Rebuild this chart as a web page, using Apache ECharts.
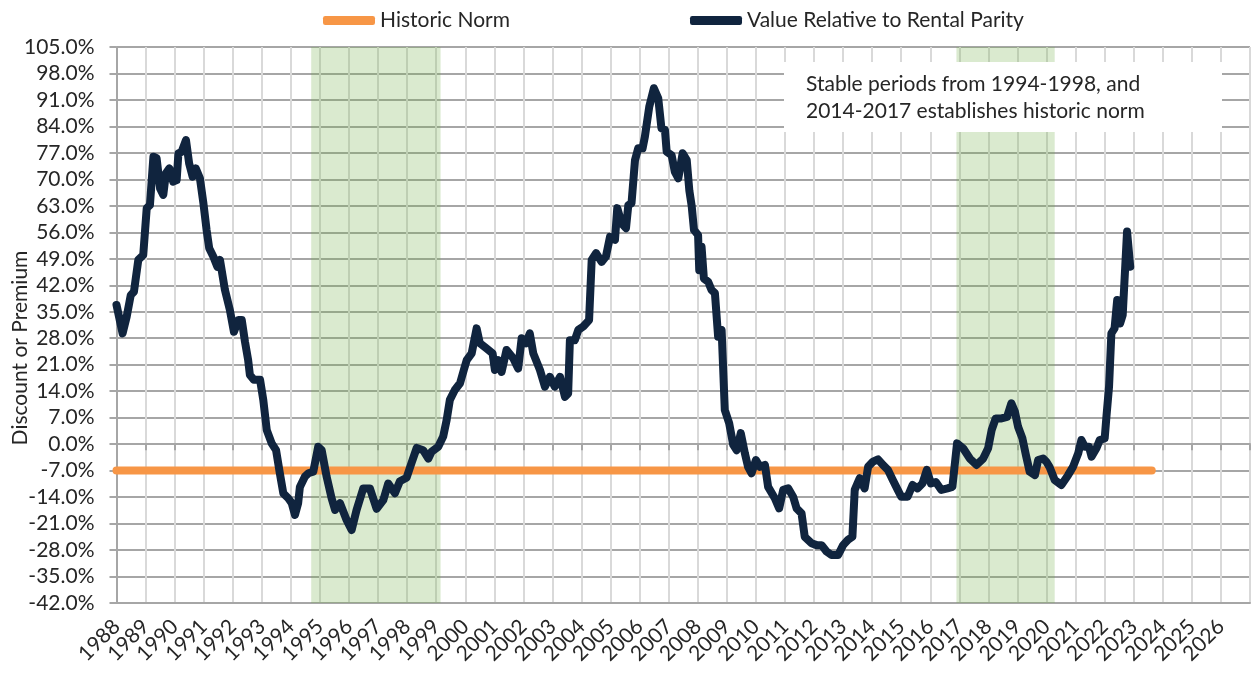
<!DOCTYPE html>
<html>
<head>
<meta charset="utf-8">
<title>Value Relative to Rental Parity</title>
<script src="https://cdn.jsdelivr.net/npm/echarts@6/dist/echarts.min.js"></script>
<style>
  html, body { margin: 0; padding: 0; background: #fff; }
  #chart { width: 1251px; height: 673px; }
</style>
</head>
<body>
<div id="chart"></div>
<script>
// value relative to rental parity (%)
const parityYears = [
  1988.00, 1988.21, 1988.35, 1988.49, 1988.60, 1988.75, 1988.92, 1989.04, 1989.15, 1989.27,
  1989.38, 1989.50, 1989.61, 1989.70, 1989.82, 1989.95, 1990.07, 1990.13, 1990.24, 1990.39,
  1990.50, 1990.62, 1990.73, 1990.87, 1990.99, 1991.10, 1991.19, 1991.33, 1991.47, 1991.56,
  1991.73, 1991.90, 1992.04, 1992.19, 1992.31, 1992.42, 1992.53, 1992.59, 1992.73, 1992.94,
  1993.05, 1993.17, 1993.34, 1993.49, 1993.62, 1993.74, 1993.91, 1994.03, 1994.14, 1994.25,
  1994.31, 1994.48, 1994.60, 1994.77, 1994.94, 1995.06, 1995.23, 1995.40, 1995.52, 1995.69,
  1995.92, 1996.09, 1996.26, 1996.49, 1996.72, 1996.95, 1997.18, 1997.35, 1997.58, 1997.75,
  1997.98, 1998.15, 1998.33, 1998.55, 1998.73, 1998.84, 1999.07, 1999.24, 1999.36, 1999.47,
  1999.64, 1999.82, 1999.95, 2000.05, 2000.22, 2000.39, 2000.50, 2000.73, 2000.94, 2001.02,
  2001.13, 2001.25, 2001.42, 2001.65, 2001.82, 2001.94, 2002.09, 2002.22, 2002.34, 2002.57,
  2002.74, 2002.91, 2003.08, 2003.26, 2003.43, 2003.54, 2003.60, 2003.77, 2003.89, 2004.06,
  2004.26, 2004.35, 2004.50, 2004.69, 2004.84, 2004.98, 2005.15, 2005.23, 2005.38, 2005.53,
  2005.61, 2005.72, 2005.84, 2005.95, 2006.10, 2006.18, 2006.33, 2006.49, 2006.64, 2006.75,
  2006.87, 2006.93, 2007.10, 2007.21, 2007.33, 2007.48, 2007.62, 2007.71, 2007.79, 2007.87,
  2008.01, 2008.05, 2008.13, 2008.21, 2008.36, 2008.47, 2008.59, 2008.70, 2008.82, 2008.93,
  2009.08, 2009.22, 2009.34, 2009.48, 2009.62, 2009.73, 2009.85, 2010.00, 2010.14, 2010.31,
  2010.42, 2010.65, 2010.80, 2010.94, 2011.11, 2011.28, 2011.40, 2011.57, 2011.68, 2011.91,
  2012.09, 2012.26, 2012.43, 2012.60, 2012.83, 2013.00, 2013.17, 2013.32, 2013.40, 2013.57,
  2013.74, 2013.86, 2014.03, 2014.20, 2014.37, 2014.54, 2014.71, 2014.88, 2015.00, 2015.22,
  2015.39, 2015.56, 2015.73, 2015.88, 2016.02, 2016.19, 2016.38, 2016.59, 2016.76, 2016.92,
  2017.13, 2017.36, 2017.59, 2017.82, 2017.99, 2018.11, 2018.25, 2018.45, 2018.64, 2018.79,
  2018.91, 2019.02, 2019.17, 2019.29, 2019.42, 2019.60, 2019.71, 2019.88, 2019.99, 2020.10,
  2020.28, 2020.51, 2020.74, 2020.91, 2021.09, 2021.20, 2021.32, 2021.46, 2021.55, 2021.72,
  2021.83, 2022.00, 2022.06, 2022.15, 2022.23, 2022.34, 2022.43, 2022.53, 2022.62, 2022.77,
  2022.88
]
const parityValues = [
  36.8, 29.3, 33.7, 39.4, 40.3, 48.7, 50.0, 62.4, 63.2, 76.0,
  75.6, 67.6, 65.9, 71.6, 72.9, 69.4, 69.8, 76.9, 77.3, 80.4,
  74.2, 70.7, 72.9, 70.3, 63.7, 56.6, 51.8, 49.6, 46.9, 48.7,
  40.8, 35.5, 29.7, 32.8, 32.8, 27.1, 22.2, 18.3, 17.0, 17.0,
  11.7, 3.7, 0.2, -1.6, -7.7, -13.0, -14.3, -15.6, -18.7, -15.6,
  -11.3, -8.6, -7.7, -7.3, -0.7, -1.6, -8.6, -14.3, -17.4, -15.6,
  -20.1, -22.7, -17.4, -11.7, -11.7, -17.1, -14.8, -10.4, -13.0, -9.8,
  -8.9, -5.0, -1.0, -1.6, -3.8, -2.0, -0.7, 2.0, 6.4, 11.7,
  14.3, 16.1, 19.6, 22.2, 24.0, 30.6, 26.7, 25.3, 24.0, 19.6,
  22.2, 19.1, 24.9, 22.7, 20.0, 28.0, 26.7, 29.3, 24.0, 19.6,
  15.2, 17.8, 15.2, 17.8, 12.5, 13.4, 27.5, 27.5, 30.2, 31.1,
  32.8, 48.7, 50.5, 48.2, 49.6, 54.8, 54.0, 62.4, 58.4, 57.1,
  63.2, 63.7, 75.1, 78.2, 78.2, 81.3, 89.2, 94.1, 91.4, 83.5,
  83.1, 77.3, 76.4, 72.0, 70.3, 76.9, 75.1, 67.0, 63.0, 56.6,
  55.3, 46.0, 52.2, 43.8, 42.9, 40.8, 39.9, 28.4, 30.2, 9.0,
  5.5, -0.2, -1.6, 2.9, -2.4, -6.0, -7.7, -4.2, -6.0, -5.5,
  -11.3, -14.3, -17.0, -12.1, -11.7, -13.9, -17.0, -18.3, -24.5, -26.2,
  -26.7, -26.7, -28.4, -29.3, -29.3, -26.7, -25.3, -24.5, -12.1, -9.0,
  -11.7, -6.0, -4.6, -4.0, -5.5, -6.8, -9.5, -12.1, -13.9, -13.9,
  -10.8, -11.7, -10.4, -6.8, -10.4, -10.0, -12.1, -11.7, -11.3, 0.2,
  -1.1, -3.8, -5.5, -3.8, -1.1, 3.7, 6.8, 6.8, 7.2, 10.8,
  8.6, 4.6, 1.5, -2.9, -7.3, -8.2, -4.2, -3.8, -4.6, -6.0,
  -9.5, -10.8, -8.2, -6.0, -2.4, 1.1, -0.7, -0.7, -3.3, -1.0,
  1.1, 1.5, 7.2, 15.2, 29.3, 30.6, 38.1, 31.9, 34.1, 56.2,
  46.9
]

// historic norm line
const normYears = [1988, 2023.62]
const normValues = [-7, -7]

// shaded stable periods [from, to]
const stableBands = [
  [1994.7, 1999.15],
  [2016.9, 2020.28]
]

const chart = echarts.init(document.getElementById('chart'))

const FONT = 'Lato'
const FONT_SIZE = 21
const textColor = '#262626'

const axisBase = {
  type: 'value',
  min: 1988,
  max: 2027,
  interval: 1
}

const yearLabel = {
  rotate: 45,
  margin: 20,
  fontSize: FONT_SIZE,
  color: textColor,
  fontFamily: FONT
}

chart.setOption({
  animation: false,
  textStyle: { fontFamily: FONT },
  legend: {
    left: 318,
    top: 5,
    itemGap: 180,
    itemWidth: 52,
    itemHeight: 9,
    icon: 'roundRect',
    textStyle: { fontSize: FONT_SIZE, color: textColor, fontFamily: FONT },
    data: ['Historic Norm', 'Value Relative to Rental Parity']
  },
  grid: {
    left: 116.5,
    right: 1,
    top: 47,
    bottom: 70
  },
  xAxis: [
    Object.assign({}, axisBase, {
      position: 'bottom',
      axisLine: { onZero: false, lineStyle: { color: '#a6a6a6', width: 2 } },
      axisTick: { show: false },
      splitLine: { show: true, lineStyle: { color: '#d9d9d9', width: 2 } },
      axisLabel: Object.assign({}, yearLabel, {
        showMinLabel: false,
        showMaxLabel: false,
        formatter: v => (v >= 2027 ? '' : String(v))
      })
    }),
    // zero line with its ticks
    Object.assign({}, axisBase, {
      position: 'bottom',
      axisLine: { onZero: true, lineStyle: { color: '#a6a6a6', width: 2 } },
      axisTick: { show: true, inside: false, length: 6, lineStyle: { color: '#a6a6a6', width: 2 } },
      axisLabel: { show: false },
      splitLine: { show: false }
    }),
    // first year label only (kept apart so it is not dropped for overlap)
    Object.assign({}, axisBase, {
      position: 'bottom',
      axisLine: { show: false, onZero: false },
      axisTick: { show: false },
      splitLine: { show: false },
      axisLabel: Object.assign({}, yearLabel, {
        showMinLabel: true,
        showMaxLabel: false,
        formatter: v => (v === 1988 ? String(v) : '')
      })
    })
  ],
  yAxis: {
    type: 'value',
    min: -42,
    max: 105,
    interval: 7,
    axisLine: { show: true, lineStyle: { color: '#a6a6a6', width: 2 } },
    axisTick: { show: true, length: 7, lineStyle: { color: '#a6a6a6', width: 2 } },
    splitLine: { lineStyle: { color: '#a6a6a6', width: 2 } },
    axisLabel: {
      margin: 22,
      fontSize: FONT_SIZE,
      color: textColor,
      fontFamily: FONT,
      formatter: v => v.toFixed(1) + '%'
    }
  },
  series: [
    {
      name: 'Historic Norm',
      type: 'line',
      xAxisIndex: 0,
      showSymbol: false,
      symbol: 'none',
      color: '#f79646',
      lineStyle: { width: 8, color: '#f79646', cap: 'round' },
      data: normYears.map((y, i) => [y, normValues[i]]),
      z: 2
    },
    {
      name: 'Value Relative to Rental Parity',
      type: 'line',
      xAxisIndex: 0,
      showSymbol: false,
      symbol: 'none',
      color: '#10243e',
      lineStyle: { width: 8, color: '#10243e', cap: 'round', join: 'round' },
      data: parityYears.map((y, i) => [y, parityValues[i]]),
      z: 3
    },
    {
      // green overlay for the stable periods, drawn over the lines
      name: 'stable',
      type: 'line',
      xAxisIndex: 0,
      data: [],
      z: 10,
      markArea: {
        silent: true,
        itemStyle: { color: 'rgba(112,173,71,0.26)' },
        data: stableBands.map(b => [{ xAxis: b[0] }, { xAxis: b[1] }])
      }
    }
  ],
  graphic: [
    {
      type: 'rect',
      z: 100,
      shape: { x: 784, y: 62, width: 438, height: 70 },
      style: { fill: '#fff' }
    },
    {
      type: 'text',
      z: 101,
      x: 806,
      y: 71,
      style: {
        text: 'Stable periods from 1994-1998, and\n2014-2017 establishes historic norm',
        font: FONT_SIZE + 'px Lato',
        fill: textColor,
        lineHeight: 27
      }
    },
    {
      type: 'text',
      z: 101,
      x: 20,
      y: 348,
      rotation: Math.PI / 2,
      style: {
        text: 'Discount or Premium',
        font: FONT_SIZE + 'px Lato',
        fill: textColor,
        align: 'center',
        verticalAlign: 'middle'
      }
    }
  ]
})
</script>
</body>
</html>
